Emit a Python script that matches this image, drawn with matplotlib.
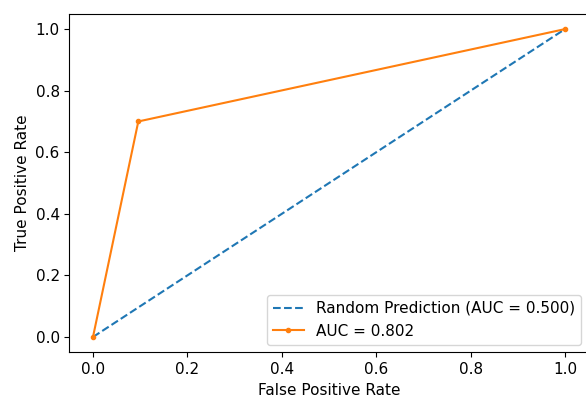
import matplotlib
matplotlib.use("Agg")
import matplotlib.pyplot as plt

# ROC curve values
fpr = [0.0, 0.096, 1.0]
tpr = [0.0, 0.7, 1.0]
random_fpr = [0.0, 1.0]
random_tpr = [0.0, 1.0]
random_label = "Random Prediction (AUC = 0.500)"
model_label = "AUC = 0.802"

plt.rcParams["font.size"] = 11

fig = plt.figure(figsize=(5.86, 4.03), dpi=100)
ax = fig.add_subplot(111)
# the right spine sits just past the image edge in the source
fig.subplots_adjust(left=0.1184, right=1.0045, top=0.966, bottom=0.1256)

ax.plot(random_fpr, random_tpr, linestyle="--", label=random_label)
ax.plot(fpr, tpr, marker=".", label=model_label)

ax.set_xlabel("False Positive Rate")
ax.set_ylabel("True Positive Rate")
ax.legend(loc="lower right")

fig.savefig("out.png", dpi=100)
plt.close()
